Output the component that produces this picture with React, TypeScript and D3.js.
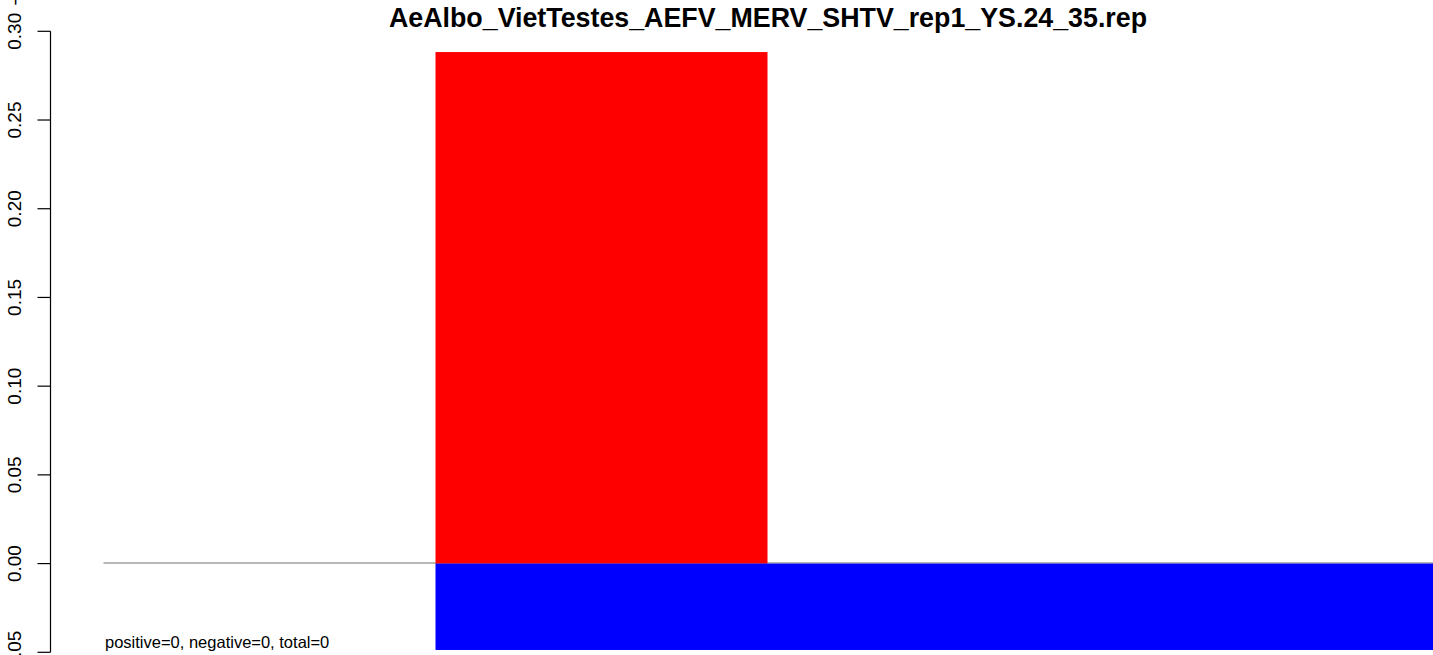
import React from "react";
import * as d3 from "d3";

const chartTitle = "AeAlbo_VietTestes_AEFV_MERV_SHTV_rep1_YS.24_35.rep";
const summaryText = "positive=0, negative=0, total=0";
const yTicks = [-0.05, 0, 0.05, 0.1, 0.15, 0.2, 0.25, 0.3];
const yTickLabels = ["-0.05", "0.00", "0.05", "0.10", "0.15", "0.20", "0.25", "0.30"];
const prevPanelLabel = "-0.05";
const barNames = ["positive", "negative"];
const barStarts = [1, 1];
const barEnds = [2, 5];
const barValues = [0.2883, -0.0487];
const barColors = ["#ff0000", "#0000ff"];

const W = 1433;
const H = 655;
const FONT = "'Liberation Sans', Arial, Helvetica, sans-serif";

export default function App() {
  const y = d3.scaleLinear().domain([-0.05, 0.3]).range([652.3, 31.3]);
  const x = d3.scaleLinear().domain([0, 1]).range([103.5, 435.5]);
  const axisX = 50.5;
  const labelX = 21;
  const y0 = y(0);

  return (
    <svg
      width={W}
      height={H}
      style={{ position: "absolute", left: 0, top: 0, display: "block", background: "#fff" }}
      fontFamily={FONT}
    >
      <text x={768} y={26.5} textAnchor="middle" fontWeight="bold" fontSize={26.8} fill="#000">
        {chartTitle}
      </text>

      {/* zero reference line */}
      <line x1={x(0)} x2={W} y1={y0 - 0.5} y2={y0 - 0.5} stroke="#a0a0a0" strokeWidth={1.5} />

      {barNames.map((n, i) => {
        const v = barValues[i];
        const top = Math.min(y(v), y0);
        const h = Math.abs(y(v) - y0);
        return (
          <rect
            key={n}
            x={x(barStarts[i])}
            width={x(barEnds[i]) - x(barStarts[i])}
            y={top}
            height={h}
            fill={barColors[i]}
          />
        );
      })}

      {/* y axis */}
      <line x1={axisX} x2={axisX} y1={y(0.3)} y2={y(-0.05)} stroke="#000" strokeWidth={1.2} />
      {yTicks.map((t, i) => (
        <g key={t}>
          <line x1={axisX - 13} x2={axisX} y1={y(t)} y2={y(t)} stroke="#000" strokeWidth={1.2} />
          <text
            transform={`translate(${labelX},${y(t)}) rotate(-90)`}
            textAnchor="middle"
            fontSize={19}
            fill="#000"
          >
            {yTickLabels[i]}
          </text>
        </g>
      ))}
      <text
        transform={`translate(${labelX},${y(0.3) - 25.8}) rotate(-90)`}
        textAnchor="start"
        fontSize={19}
        fill="#000"
      >
        {prevPanelLabel}
      </text>

      <text x={105} y={648} fontSize={16.5} fill="#000">
        {summaryText}
      </text>
    </svg>
  );
}
